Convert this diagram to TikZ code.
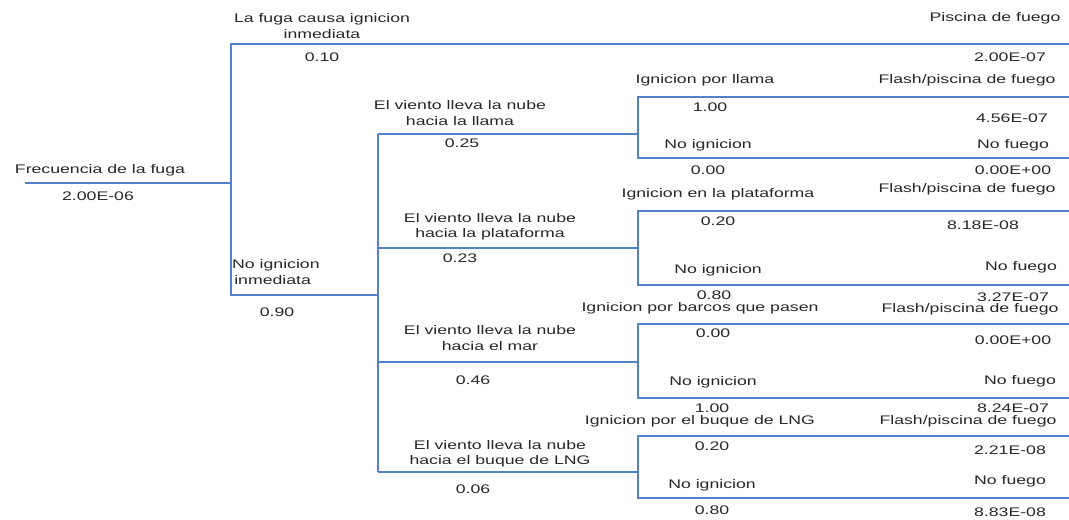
\documentclass[tikz,border=0pt]{standalone}
\usepackage{fontspec}
\setmainfont{Liberation Sans}[FakeStretch=1.42]
\definecolor{branchblue}{RGB}{84,128,204}
\definecolor{txt}{RGB}{40,40,40}
\begin{document}
\begin{tikzpicture}[x=1bp,y=-1bp,
  tree/.style={draw=branchblue,line width=2.7bp},
  lbl/.style={inner sep=0pt,text=txt,align=center,
    font=\fontsize{12.5}{15.5}\selectfont}]
\useasboundingbox[fill=white] (0,0) rectangle (1069,520);

% junctions of the event tree
\coordinate (root) at (25,183);
\coordinate (A)   at (231,183);
\coordinate (A1)  at (231,44);   \coordinate (A1e) at (1069,44);
\coordinate (A2)  at (231,295);  \coordinate (B)   at (378,295);
\coordinate (B1)  at (378,134);  \coordinate (C1)  at (638,134);
\coordinate (B2)  at (378,248);  \coordinate (C2)  at (638,248);
\coordinate (B3)  at (378,362);  \coordinate (C3)  at (638,362);
\coordinate (B4)  at (378,472);  \coordinate (C4)  at (638,472);
\coordinate (C1t) at (638,97);   \coordinate (C1te) at (1069,97);
\coordinate (C1b) at (638,158);  \coordinate (C1be) at (1069,158);
\coordinate (C2t) at (638,211);  \coordinate (C2te) at (1069,211);
\coordinate (C2b) at (638,285);  \coordinate (C2be) at (1069,285);
\coordinate (C3t) at (638,324);  \coordinate (C3te) at (1069,324);
\coordinate (C3b) at (638,398);  \coordinate (C3be) at (1069,398);
\coordinate (C4t) at (638,436);  \coordinate (C4te) at (1069,436);
\coordinate (C4b) at (638,498);  \coordinate (C4be) at (1069,498);

% branches
\draw[tree] (root) -- (A);
\draw[tree] (A1e) -- (A1) -- (A2) -- (B);
\draw[tree] (B1) -- (B4);
\draw[tree] (B1) -- (C1);
\draw[tree] (B2) -- (C2);
\draw[tree] (B3) -- (C3);
\draw[tree] (B4) -- (C4);
\draw[tree] (C1te) -- (C1t) -- (C1b) -- (C1be);
\draw[tree] (C2te) -- (C2t) -- (C2b) -- (C2be);
\draw[tree] (C3te) -- (C3t) -- (C3b) -- (C3be);
\draw[tree] (C4te) -- (C4t) -- (C4b) -- (C4be);

% initiating event
\node[lbl] (freq)  at (100,170) {Frecuencia de la fuga};
\node[lbl] (freqv) at (98,196) {2.00E-06};

% immediate ignition
\node[lbl] (imm)   at (322,26) {La fuga causa ignicion\\inmediata};
\node[lbl] (immp)  at (322,57) {0.10};
\node[lbl] (pool)  at (995,18) {Piscina de fuego};
\node[lbl] (poolv) at (1010,57) {2.00E-07};
\node[lbl,align=left,anchor=west] (noimm) at (232,272) {No ignicion\\\,inmediata};
\node[lbl] (noimmp) at (277,312) {0.90};

% wind directions
\node[lbl] (w1)  at (460,113) {El viento lleva la nube\\hacia la llama};
\node[lbl] (w1p) at (462,143) {0.25};
\node[lbl] (w2)  at (490,227) {El viento lleva la nube\\hacia la plataforma};
\node[lbl] (w2p) at (460,258) {0.23};
\node[lbl] (w3)  at (490,338) {El viento lleva la nube\\hacia el mar};
\node[lbl] (w3p) at (473,380) {0.46};
\node[lbl] (w4)  at (500,454) {El viento lleva la nube\\hacia el buque de LNG};
\node[lbl] (w4p) at (473,489) {0.06};

% delayed ignition, towards the flame
\node[lbl] (g1)   at (705,80)  {Ignicion por llama};
\node[lbl] (g1p)  at (710,107) {1.00};
\node[lbl] (g1n)  at (708,145) {No ignicion};
\node[lbl] (g1np) at (708,170) {0.00};
\node[lbl] (o1)   at (967,80)  {Flash/piscina de fuego};
\node[lbl] (o1v)  at (1012,118) {4.56E-07};
\node[lbl] (o1n)  at (1013,145) {No fuego};
\node[lbl] (o1nv) at (1013,170) {0.00E+00};

% towards the platform
\node[lbl] (g2)   at (718,194) {Ignicion en la plataforma};
\node[lbl] (g2p)  at (718,221) {0.20};
\node[lbl] (g2n)  at (718,270) {No ignicion};
\node[lbl] (g2np) at (714,295) {0.80};
\node[lbl] (o2)   at (967,189) {Flash/piscina de fuego};
\node[lbl] (o2v)  at (983,225) {8.18E-08};
\node[lbl] (o2n)  at (1021,267) {No fuego};
\node[lbl] (o2nv) at (1013,297) {3.27E-07};

% towards the sea
\node[lbl] (g3)   at (700,308) {Ignicion por barcos que pasen};
\node[lbl] (g3p)  at (713,333) {0.00};
\node[lbl] (g3n)  at (713,382) {No ignicion};
\node[lbl] (g3np) at (712,408) {1.00};
\node[lbl] (o3)   at (970,309) {Flash/piscina de fuego};
\node[lbl] (o3v)  at (1013,340) {0.00E+00};
\node[lbl] (o3n)  at (1020,381) {No fuego};
\node[lbl] (o3nv) at (1013,408) {8.24E-07};

% towards the LNG carrier
\node[lbl] (g4)   at (700,421) {Ignicion por el buque de LNG};
\node[lbl] (g4p)  at (712,446) {0.20};
\node[lbl] (g4n)  at (712,485) {No ignicion};
\node[lbl] (g4np) at (712,510) {0.80};
\node[lbl] (o4)   at (968,421) {Flash/piscina de fuego};
\node[lbl] (o4v)  at (1010,450) {2.21E-08};
\node[lbl] (o4n)  at (1010,481) {No fuego};
\node[lbl] (o4nv) at (1010,512) {8.83E-08};
\end{tikzpicture}
\end{document}
